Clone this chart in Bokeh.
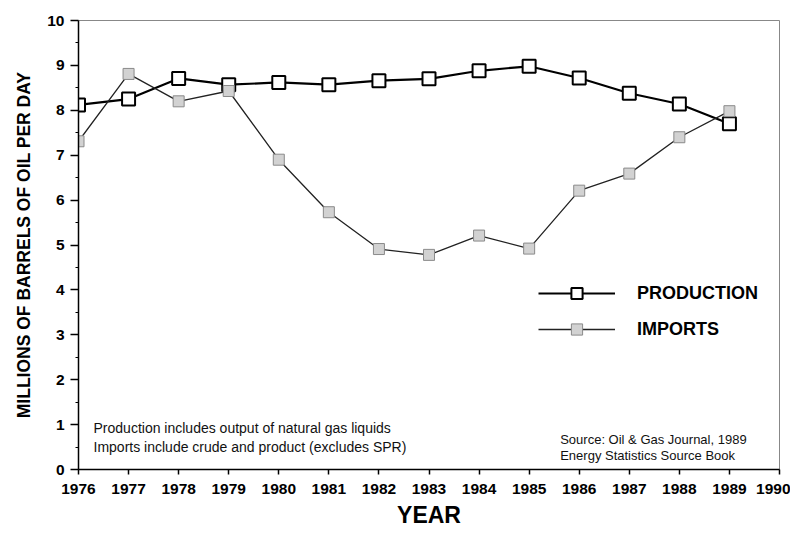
from bokeh.plotting import figure
from bokeh.models import Range1d, Legend, LegendItem, Label, FixedTicker
from bokeh.embed import file_html
from bokeh.resources import INLINE

years = [1976, 1977, 1978, 1979, 1980, 1981, 1982, 1983, 1984, 1985, 1986, 1987, 1988, 1989]
production = [8.12, 8.25, 8.71, 8.57, 8.62, 8.57, 8.66, 8.70, 8.88, 8.98, 8.72, 8.38, 8.14, 7.70]
imports = [7.31, 8.81, 8.20, 8.43, 6.90, 5.73, 4.91, 4.78, 5.21, 4.92, 6.21, 6.59, 7.40, 7.98]
x_ticks = list(range(1976, 1991))
y_ticks = list(range(0, 11))

FONT = "Liberation Sans"

p = figure(width=790, height=542, output_backend="svg", toolbar_location=None,
           x_range=Range1d(1976, 1990), y_range=Range1d(0, 10),
           frame_width=701, frame_height=449,
           min_border_left=78, min_border_top=20, min_border_right=11, min_border_bottom=73)
p.xgrid.visible = False
p.ygrid.visible = False
p.outline_line_color = "#888888"
p.outline_line_width = 1
p.background_fill_color = "white"
p.border_fill_color = "white"

# axes
p.xaxis.ticker = FixedTicker(ticks=x_ticks)
p.yaxis.ticker = FixedTicker(ticks=y_ticks, minor_ticks=[i + 0.5 for i in range(10)])
for ax in (p.xaxis[0], p.yaxis[0]):
    ax.axis_line_color = "black"
    ax.axis_line_width = 1.5
    ax.major_tick_line_color = "black"
    ax.major_tick_line_width = 1.5
    ax.major_label_text_font = FONT
    ax.major_label_text_font_style = "bold"
    ax.major_label_text_font_size = "15.5px"
    ax.major_label_text_color = "black"
    ax.axis_label_text_font = FONT
    ax.axis_label_text_font_style = "bold"
    ax.axis_label_text_color = "black"

p.xaxis.major_tick_in = 0
p.xaxis.major_tick_out = 5
p.xaxis.minor_tick_line_color = None
p.xaxis.major_label_standoff = 9
p.xaxis.axis_label = "YEAR"
p.xaxis.axis_label_text_font_size = "23px"
p.xaxis.axis_label_standoff = 5

p.yaxis.major_tick_in = 0
p.yaxis.major_tick_out = 8
p.yaxis.minor_tick_in = 0
p.yaxis.minor_tick_out = 3
p.yaxis.minor_tick_line_color = "black"
p.yaxis.major_label_standoff = 6
p.yaxis.axis_label = "MILLIONS OF BARRELS OF OIL PER DAY"
p.yaxis.axis_label_text_font_size = "17.5px"
p.yaxis.axis_label_standoff = 10

# series
l1 = p.line(years, production, line_color="black", line_width=2.2)
m1 = p.scatter(years, production, marker="square", size=13, fill_color="white",
               line_color="black", line_width=2)
l2 = p.line(years, imports, line_color="#222222", line_width=1.3)
m2 = p.scatter(years, imports, marker="square", size=11, fill_color="#d2d2d2",
               line_color="#8a8a8a", line_width=1)

legend = Legend(items=[LegendItem(label="PRODUCTION", renderers=[l1, m1]),
                       LegendItem(label="IMPORTS", renderers=[l2, m2])],
                location=(460, 126), orientation="vertical",
                glyph_width=77, glyph_height=28, label_height=28, spacing=8,
                label_standoff=22, padding=0, margin=0,
                border_line_color=None, background_fill_alpha=0,
                label_text_font=FONT, label_text_font_style="bold",
                label_text_font_size="18px", label_text_color="black")
p.add_layout(legend)

notes = [("Production includes output of natural gas liquids", 1976.3, 0.935),
         ("Imports include crude and product (excludes SPR)", 1976.3, 0.49)]
for txt, x, y in notes:
    p.add_layout(Label(x=x, y=y, text=txt, text_font=FONT, text_font_size="14px",
                       text_color="#111111", text_baseline="middle"))

sources = [("Source: Oil & Gas Journal, 1989", 1985.62, 0.67),
           ("Energy Statistics Source Book", 1985.62, 0.31)]
for txt, x, y in sources:
    p.add_layout(Label(x=x, y=y, text=txt, text_font=FONT, text_font_size="13px",
                       text_color="#111111", text_baseline="middle"))

open("out.html", "w").write(file_html(p, INLINE))
